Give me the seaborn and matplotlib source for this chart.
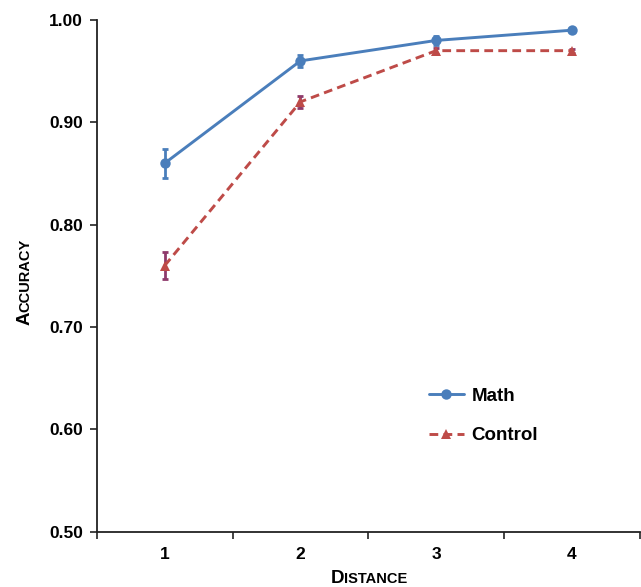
import pandas as pd
import matplotlib.pyplot as plt
import seaborn as sns

# values
distance = [1, 2, 3, 4]
math_acc = [0.86, 0.96, 0.98, 0.99]
math_err = [0.014, 0.006, 0.004, 0.002]
control_acc = [0.76, 0.92, 0.97, 0.97]
control_err = [0.013, 0.006, 0.003, 0.002]

blue = '#4A7EBB'
red = '#BE4B48'
plum = '#8E3A6B'

sns.set_style('ticks')
plt.rcParams['font.family'] = ['Liberation Sans', 'DejaVu Sans']
plt.rcParams['font.weight'] = 'bold'
plt.rcParams['text.color'] = 'black'
plt.rcParams['xtick.labelcolor'] = 'black'
plt.rcParams['ytick.labelcolor'] = 'black'

df = pd.DataFrame({
    'Distance': distance * 2,
    'Accuracy': math_acc + control_acc,
    'Group': ['Math'] * 4 + ['Control'] * 4,
})

fig = plt.figure(figsize=(6.41, 5.87), dpi=100)
ax = fig.add_axes([0.151, 0.094, 0.847, 0.872])

ax.errorbar(distance, math_acc, yerr=math_err, fmt='none', ecolor=blue,
            elinewidth=2, capsize=2.5, capthick=2, zorder=1)
ax.errorbar(distance, control_acc, yerr=control_err, fmt='none', ecolor=plum,
            elinewidth=2, capsize=2.5, capthick=2, zorder=1)

sns.lineplot(data=df, x='Distance', y='Accuracy', hue='Group', style='Group',
             palette={'Math': blue, 'Control': red},
             markers={'Math': 'o', 'Control': '^'},
             dashes={'Math': '', 'Control': (3, 1.8)},
             markeredgewidth=0, markersize=7.5, linewidth=2.1, ax=ax, zorder=3)

ax.set_xlim(0.5, 4.5)
ax.set_ylim(0.5, 1.0)
yt = [0.5, 0.6, 0.7, 0.8, 0.9, 1.0]
ax.set_yticks(yt)
ax.set_yticklabels([f'{v:.2f}' for v in yt])
ax.set_xticks(distance)
ax.set_xticks([0.5, 1.5, 2.5, 3.5, 4.5], minor=True)
ax.tick_params(axis='x', which='major', length=0, pad=11, labelsize=12.5)
ax.tick_params(axis='x', which='minor', length=5, width=1.2, color='#222222')
ax.tick_params(axis='y', length=5, width=1.2, color='#222222', labelsize=12.5, pad=5)
for lab in ax.get_xticklabels() + ax.get_yticklabels():
    lab.set_fontweight('bold')
sns.despine(ax=ax)
for s in ['left', 'bottom']:
    ax.spines[s].set_linewidth(1.3)
    ax.spines[s].set_color('#222222')

ax.set_xlabel('')
ax.set_ylabel('')

handles, labels = ax.get_legend_handles_labels()
order = [labels.index('Math'), labels.index('Control')]
ax.legend([handles[i] for i in order], [labels[i] for i in order],
          loc='upper left', bbox_to_anchor=(0.58, 0.315), frameon=False,
          handlelength=1.9, handletextpad=0.4, labelspacing=1.2,
          prop={'size': 13.5, 'weight': 'bold'})


def small_caps(first, rest, x, y, rotate=False):
    kw = dict(fontweight='bold', color='black', va='baseline', ha='left',
              rotation=90 if rotate else 0, rotation_mode='anchor')
    t1 = fig.text(x, y, first, fontsize=13.5, **kw)
    t2 = fig.text(x, y, rest, fontsize=10.5, **kw)
    fig.canvas.draw()
    r = fig.canvas.get_renderer()
    b1 = t1.get_window_extent(r)
    b2 = t2.get_window_extent(r)
    W, H = fig.bbox.width, fig.bbox.height
    if rotate:
        total = b1.height + b2.height
        y0 = y * H - total / 2
        t1.set_position((x, y0 / H))
        t2.set_position((x, (y0 + b1.height) / H))
    else:
        total = b1.width + b2.width
        x0 = x * W - total / 2
        t1.set_position((x0 / W, y))
        t2.set_position(((x0 + b1.width) / W, y))


small_caps('D', 'ISTANCE', 0.576, 0.006)
small_caps('A', 'CCURACY', 0.046, 0.52, rotate=True)

fig.savefig('out.png', dpi=100)
